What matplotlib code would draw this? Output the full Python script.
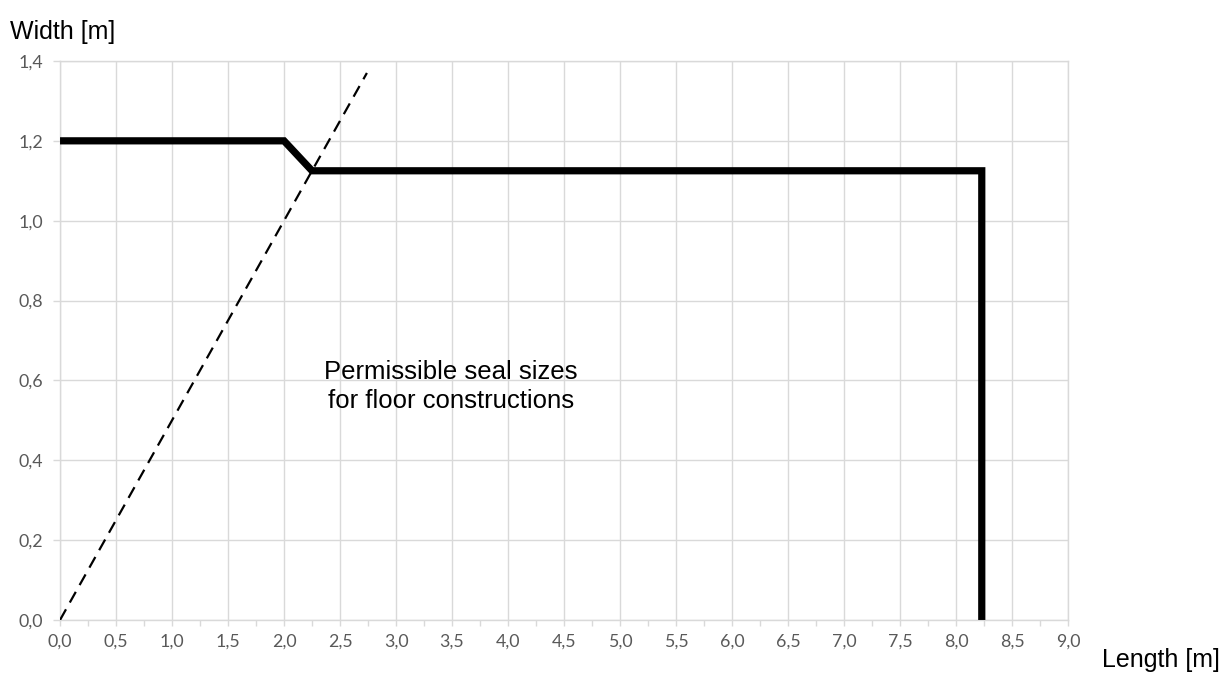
import matplotlib.pyplot as plt
from matplotlib.ticker import FixedLocator

# data garis batas ukuran seal
length = [0.0, 2.0, 2.25, 8.23, 8.23]
width = [1.2, 1.2, 1.125, 1.125, 0.0]

# garis putus-putus (rasio lebar/panjang)
dash_length = [0.0, 2.74]
dash_width = [0.0, 1.37]

x_ticks = [0.0, 0.5, 1.0, 1.5, 2.0, 2.5, 3.0, 3.5, 4.0, 4.5, 5.0, 5.5, 6.0, 6.5, 7.0, 7.5, 8.0, 8.5, 9.0]
y_ticks = [0.0, 0.2, 0.4, 0.6, 0.8, 1.0, 1.2, 1.4]

fig = plt.figure(figsize=(12.3, 6.73), dpi=100)
ax = fig.add_axes([0.0488, 0.0788, 0.8195, 0.8306])

grid_col = '#d9d9d9'
ax.plot(dash_length, dash_width, color='black', lw=1.6, dashes=(5.5, 3.5), zorder=3)
ax.plot(length, width, color='black', lw=5.2, solid_joinstyle='miter', solid_capstyle='butt',
        zorder=4, clip_on=False)

ax.set_xlim(0, 9)
ax.set_ylim(0, 1.4)
ax.set_xticks(x_ticks)
ax.set_yticks(y_ticks)
ax.xaxis.set_minor_locator(FixedLocator([x + 0.25 for x in x_ticks[:-1]]))
ax.set_xticklabels([('%.1f' % v).replace('.', ',') for v in x_ticks])
ax.set_yticklabels([('%.1f' % v).replace('.', ',') for v in y_ticks])
ax.grid(True, color=grid_col, lw=1.0)
ax.set_axisbelow(True)
for s in ax.spines.values():
    s.set_color(grid_col)
    s.set_linewidth(1.0)
ax.tick_params(axis='both', which='both', color=grid_col, labelcolor='#595959',
               labelsize=12.8, width=1.0)
ax.tick_params(axis='x', which='both', length=4, pad=6)
ax.tick_params(axis='y', length=5, pad=7)
for lbl in ax.get_xticklabels() + ax.get_yticklabels():
    lbl.set_family('Lato')

fig.text(0.008, 0.952, 'Width [m]', fontsize=18, family='Liberation Sans', va='center', ha='left')
fig.text(0.992, 0.02, 'Length [m]', fontsize=18, family='Liberation Sans', va='center', ha='right')

ax.text(3.49, 0.584, 'Permissible seal sizes\nfor floor constructions', fontsize=18.5,
        family='Liberation Sans', ha='center', va='center', linespacing=1.25)

fig.savefig('out.png', dpi=100)
